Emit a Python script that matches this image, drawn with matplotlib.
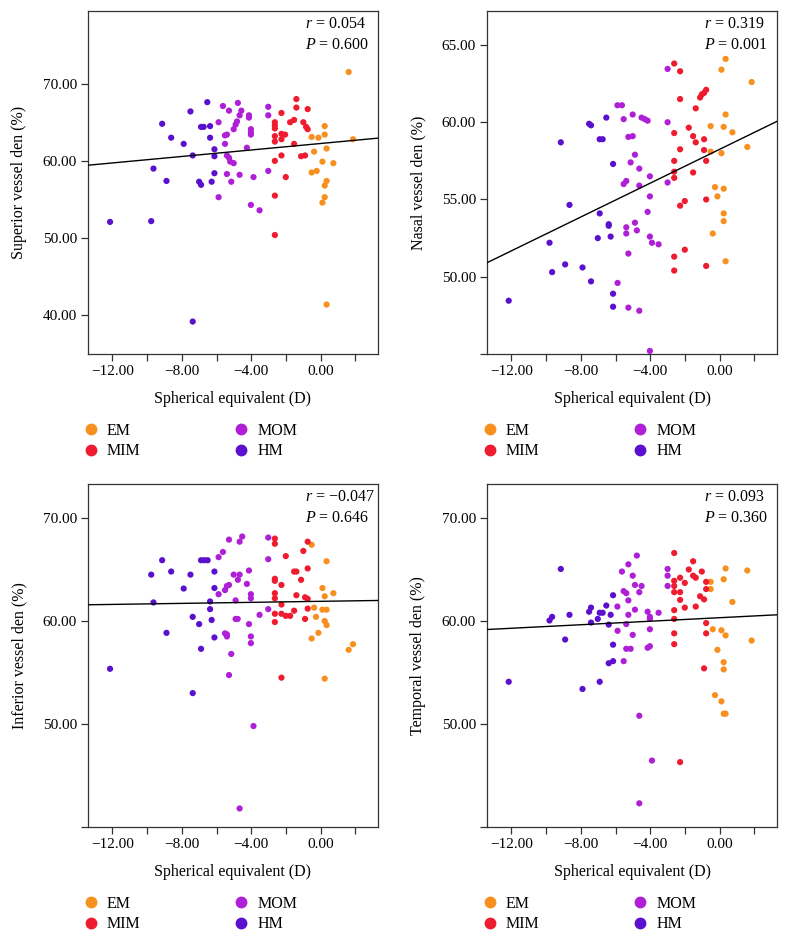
import numpy as np
import matplotlib
matplotlib.use("Agg")
import matplotlib.pyplot as plt
from matplotlib.lines import Line2D
from matplotlib.ticker import FuncFormatter

plt.rcParams["font.family"] = ["Liberation Serif", "DejaVu Serif"]
plt.rcParams["mathtext.fontset"] = "custom"
plt.rcParams["mathtext.rm"] = "Liberation Serif"
plt.rcParams["mathtext.it"] = "Liberation Serif:italic"

groups = ["EM", "MIM", "MOM", "HM"]
colors = {"EM": "#F7901E", "MIM": "#EE1C2E", "MOM": "#AE1FD6", "HM": "#5B10CE"}

# ---- superior ----
sup_em_x = [-0.52, -0.52, -0.38, -0.23, -0.13, 0.10, 0.10, 0.23, 0.23, 0.23, 0.23, 0.34, 0.34, 0.34, 0.73, 1.61, 1.86]
sup_em_y = [63.1, 58.5, 61.2, 58.7, 63.0, 59.9, 54.6, 64.5, 63.4, 56.8, 55.3, 61.6, 57.4, 41.4, 59.7, 71.5, 62.8]
sup_mim_x = [-2.64, -2.64, -2.64, -2.64, -2.64, -2.64, -2.64, -2.64, -2.26, -2.26, -2.26, -2.26, -2.05, -2.01,
             -1.76, -1.53, -1.53, -1.40, -1.40, -1.13, -1.00, -0.90, -0.84, -0.75, -0.75]
sup_mim_y = [50.4, 55.5, 60.0, 62.5, 63.2, 64.2, 64.6, 65.0, 66.2, 62.8, 63.5, 60.7, 63.4, 57.9,
             65.0, 65.3, 62.2, 68.0, 66.9, 60.6, 65.0, 60.7, 64.4, 66.7, 64.1]
sup_mom_x = [-5.88, -5.88, -5.63, -5.51, -5.51, -5.40, -5.40, -5.28, -5.28, -5.21, -5.40, -5.15, -5.01, -5.01,
             -4.90, -4.82, -4.77, -4.67, -4.57, -4.67, -4.25, -4.13, -4.13, -4.02, -4.02, -4.02, -4.02, -3.87,
             -3.52, -3.02, -3.02, -3.02]
sup_mom_y = [65.0, 55.3, 67.1, 63.3, 62.2, 63.4, 60.7, 60.4, 66.5, 59.9, 58.3, 57.3, 64.1, 59.7,
             64.7, 65.1, 67.5, 65.9, 66.5, 58.2, 61.7, 65.9, 65.6, 64.1, 63.7, 63.4, 54.3, 57.9,
             53.6, 67.0, 65.9, 58.7]
sup_hm_x = [-12.13, -9.76, -9.13, -9.63, -8.88, -8.61, -7.89, -7.50, -7.37, -7.37, -7.00, -6.89, -6.89, -6.74,
            -6.53, -6.37, -6.37, -6.28, -6.12, -6.12, -6.12]
sup_hm_y = [52.1, 52.2, 64.8, 59.0, 57.4, 63.0, 62.2, 66.4, 60.7, 39.2, 57.3, 56.9, 64.4, 64.4,
            67.6, 64.5, 63.0, 57.3, 61.5, 60.6, 58.4]

# ---- nasal ----
nas_em_x = [-0.52, -0.52, -0.40, -0.27, -0.13, 0.10, 0.10, 0.23, 0.23, 0.23, 0.23, 0.34, 0.34, 0.34, 0.73, 1.59, 1.84]
nas_em_y = [59.75, 58.1, 52.8, 55.8, 55.2, 63.4, 58.0, 59.7, 55.7, 54.1, 53.6, 64.1, 60.5, 51.0, 59.35, 58.4, 62.6]
nas_mim_x = [-2.62, -2.62, -2.62, -2.62, -2.62, -2.62, -2.62, -2.28, -2.28, -2.28, -2.28, -2.01, -2.01,
             -1.78, -1.53, -1.53, -1.38, -1.38, -1.13, -1.03, -0.90, -0.78, -0.90, -0.90, -0.78, -0.78, -0.78]
nas_mim_y = [63.8, 59.3, 57.5, 56.8, 56.4, 51.3, 50.4, 63.3, 61.5, 58.25, 54.6, 54.9, 51.75,
             59.65, 59.1, 56.75, 60.9, 58.7, 61.6, 61.8, 61.9, 62.1, 58.9, 58.2, 57.5, 55.0, 50.7]
nas_mom_x = [-5.89, -5.63, -5.88, -5.53, -5.53, -5.38, -5.38, -5.38, -5.26, -5.26, -5.26, -5.01, -5.01, -4.88,
             -4.88, -4.77, -5.13, -4.63, -4.63, -4.63, -4.50, -4.31, -4.15, -4.15, -4.02, -4.02, -4.02, -3.90,
             -4.02, -3.52, -3.00, -3.00, -3.00]
nas_mom_y = [61.1, 61.1, 49.6, 60.2, 56.0, 56.2, 53.2, 52.8, 59.05, 51.5, 48.0, 60.5, 59.1, 57.9,
             53.5, 53.0, 57.4, 57.0, 55.9, 47.8, 60.3, 60.2, 60.1, 54.2, 56.5, 55.2, 52.6, 52.2,
             45.2, 52.1, 63.45, 60.0, 56.1]
nas_hm_x = [-12.15, -9.80, -9.65, -9.15, -8.90, -8.65, -7.90, -7.52, -7.41, -7.41, -7.02, -6.91, -6.74, -6.91,
            -6.53, -6.39, -6.39, -6.28, -6.14, -6.14, -6.14]
nas_hm_y = [48.45, 52.2, 50.3, 58.7, 50.8, 54.65, 50.6, 59.9, 59.8, 49.7, 52.5, 58.9, 58.9, 54.1,
            60.3, 53.4, 53.3, 52.6, 57.3, 48.9, 48.06]

# ---- inferior ----
inf_em_x = [-0.52, -0.52, -0.38, -0.27, -0.13, 0.10, 0.10, 0.23, 0.23, 0.23, 0.34, 0.34, 0.34, 0.73, 1.61, 1.86]
inf_em_y = [67.4, 58.3, 61.3, 60.4, 58.85, 63.2, 61.1, 62.4, 60.0, 54.4, 65.8, 61.1, 59.6, 62.7, 57.2, 57.75]
inf_mim_x = [-2.64, -2.64, -2.64, -2.64, -2.64, -2.64, -2.64, -2.64, -2.26, -2.26, -2.26, -2.26, -2.01, -2.01,
             -1.76, -1.53, -1.53, -1.40, -1.40, -1.13, -1.00, -0.90, -0.90, -0.75, -0.75, -0.75, -0.75]
inf_mim_y = [68.0, 67.5, 64.1, 63.9, 62.7, 62.2, 60.7, 59.9, 63.5, 61.6, 60.7, 54.5, 66.3, 60.5,
             60.5, 61.0, 64.8, 64.8, 62.5, 64.0, 66.8, 62.3, 60.2, 67.7, 65.1, 62.15, 61.2]
inf_mom_x = [-5.88, -5.88, -5.63, -5.51, -5.51, -5.40, -5.40, -5.40, -5.28, -5.28, -5.28, -5.15, -5.01, -4.90,
             -4.90, -4.78, -4.77, -4.67, -4.67, -4.52, -4.67, -4.25, -4.13, -4.13, -4.02, -4.02, -4.02, -4.02,
             -3.87, -3.52, -3.02, -3.02, -3.02]
inf_mom_y = [62.6, 66.2, 66.7, 63.0, 58.8, 58.7, 58.5, 63.4, 63.5, 67.9, 54.75, 56.8, 64.5, 62.0,
             60.2, 60.2, 64.0, 64.5, 67.7, 68.2, 41.8, 63.6, 64.9, 59.7, 62.6, 62.2, 58.5, 57.85,
             49.8, 60.6, 68.1, 66.0, 61.15]
inf_hm_x = [-12.13, -9.76, -9.63, -9.13, -8.88, -8.61, -7.89, -7.50, -7.37, -7.37, -7.00, -6.89, -6.89, -6.70,
            -6.51, -6.37, -6.37, -6.28, -6.12, -6.12, -6.12]
inf_hm_y = [55.36, 64.5, 61.8, 65.9, 58.85, 64.8, 63.15, 64.5, 60.4, 53.0, 59.7, 57.3, 65.9, 65.9,
            65.9, 61.9, 61.15, 60.1, 64.8, 63.2, 58.4]

# ---- temporal ----
tem_em_x = [-0.52, -0.52, -0.40, -0.27, -0.13, 0.10, 0.10, 0.23, 0.23, 0.23, 0.23, 0.34, 0.34, 0.34, 0.73, 1.59, 1.84]
tem_em_y = [63.8, 63.1, 59.2, 52.8, 57.2, 59.1, 52.2, 64.05, 56.0, 55.3, 51.0, 65.1, 58.6, 51.0, 61.85, 64.9, 58.1]
tem_mim_x = [-2.62, -2.62, -2.62, -2.62, -2.62, -2.62, -2.62, -2.62, -2.28, -2.28, -2.28, -2.28, -2.01, -2.01,
             -1.78, -1.53, -1.53, -1.38, -1.38, -1.13, -1.03, -0.90, -0.90, -0.78, -0.78, -0.78, -0.78]
tem_mim_y = [66.6, 63.9, 63.4, 62.8, 61.05, 60.2, 58.8, 57.75, 64.2, 62.8, 62.05, 46.3, 63.7, 61.3,
             65.0, 65.8, 64.4, 64.2, 61.4, 62.4, 64.8, 62.1, 55.4, 63.8, 63.1, 59.8, 58.8]
tem_mom_x = [-5.89, -5.88, -5.63, -5.53, -5.53, -5.38, -5.38, -5.38, -5.26, -5.26, -5.26, -5.13, -5.01, -5.01,
             -4.88, -4.88, -4.77, -4.63, -4.63, -4.63, -4.50, -4.15, -4.15, -4.02, -4.02, -4.02, -4.02, -3.90,
             -3.52, -3.00, -3.00, -3.00]
tem_mom_y = [61.4, 59.05, 64.8, 62.9, 56.1, 62.7, 59.7, 57.3, 65.5, 62.0, 60.6, 57.3, 64.4, 58.65,
             63.5, 61.1, 66.35, 62.8, 50.8, 42.3, 63.4, 60.9, 57.4, 60.2, 59.2, 57.55, 60.4, 46.45,
             60.8, 65.05, 64.4, 63.4]
tem_hm_x = [-12.15, -9.80, -9.65, -9.15, -8.90, -8.65, -7.90, -7.52, -7.41, -7.41, -7.02, -6.91, -6.74, -6.91,
            -6.53, -6.39, -6.39, -6.28, -6.14, -6.14, -6.14]
tem_hm_y = [54.1, 60.05, 60.4, 65.05, 58.2, 60.6, 53.4, 60.9, 61.3, 59.85, 60.2, 60.8, 60.8, 54.1,
            61.5, 59.65, 55.9, 60.6, 62.5, 57.7, 56.1]

panels = [
    dict(ylabel="Superior vessel den (%)", r="0.054", p="0.600", fit=(62.25, 0.21),
         ylim=(35.0, 79.4), yticks=[40, 50, 60, 70], ylabeled=[40, 50, 60, 70],
         data={"EM": (sup_em_x, sup_em_y), "MIM": (sup_mim_x, sup_mim_y),
               "MOM": (sup_mom_x, sup_mom_y), "HM": (sup_hm_x, sup_hm_y)}),
    dict(ylabel="Nasal vessel den (%)", r="0.319", p="0.001", fit=(58.25, 0.548),
         ylim=(45.0, 67.2), yticks=[45, 50, 55, 60, 65], ylabeled=[50, 55, 60, 65],
         data={"EM": (nas_em_x, nas_em_y), "MIM": (nas_mim_x, nas_mim_y),
               "MOM": (nas_mom_x, nas_mom_y), "HM": (nas_hm_x, nas_hm_y)}),
    dict(ylabel="Inferior vessel den (%)", r="\u22120.047", p="0.646", fit=(61.91, 0.025),
         ylim=(40.0, 73.3), yticks=[40, 50, 60, 70], ylabeled=[50, 60, 70],
         data={"EM": (inf_em_x, inf_em_y), "MIM": (inf_mim_x, inf_mim_y),
               "MOM": (inf_mom_x, inf_mom_y), "HM": (inf_hm_x, inf_hm_y)}),
    dict(ylabel="Temporal vessel den (%)", r="0.093", p="0.360", fit=(60.32, 0.0855),
         ylim=(40.0, 73.3), yticks=[40, 50, 60, 70], ylabeled=[50, 60, 70],
         data={"EM": (tem_em_x, tem_em_y), "MIM": (tem_mim_x, tem_mim_y),
               "MOM": (tem_mom_x, tem_mom_y), "HM": (tem_hm_x, tem_hm_y)}),
]

W, H = 788, 939
fig = plt.figure(figsize=(W / 100, H / 100), dpi=100)
boxes = [(88, 11), (487, 11), (88, 484), (487, 484)]
aw, ah = 290, 343

def fmt2(v):
    return ("%.2f" % v).replace("-", "\u2212")

for (px, py), cfg in zip(boxes, panels):
    ax = fig.add_axes([px / W, 1 - (py + ah) / H, aw / W, ah / H])
    for g in groups:
        xs, ys = cfg["data"][g]
        ax.scatter(xs, ys, s=20, color=colors[g], edgecolors="none", zorder=3)
    ax.set_xlim(-13.4, 3.3)
    ax.set_ylim(*cfg["ylim"])
    b0, b1 = cfg["fit"]
    xl = np.array(ax.get_xlim())
    ax.plot(xl, b0 + b1 * xl, color="black", lw=1.0, zorder=4)

    ax.set_xticks(np.arange(-12, 3, 2))
    ax.xaxis.set_major_formatter(FuncFormatter(lambda v, pos: fmt2(v) if int(round(v)) % 4 == 0 else ""))
    labeled = cfg["ylabeled"]
    ax.set_yticks(cfg["yticks"])
    ax.yaxis.set_major_formatter(FuncFormatter(lambda v, pos, lab=labeled: fmt2(v) if round(v) in lab else ""))
    ax.tick_params(length=5, width=0.9, color="#333333", labelsize=11, pad=3)
    for sp in ax.spines.values():
        sp.set_color("#333333")
        sp.set_linewidth(0.9)

    ax.set_xlabel("Spherical equivalent (D)", fontsize=11.5, labelpad=9)
    ax.set_ylabel(cfg["ylabel"], fontsize=11.5, labelpad=11)

    ax.text(0.748, 0.962, r"$r$ = " + cfg["r"], transform=ax.transAxes, fontsize=11.5, va="center", ha="left")
    ax.text(0.748, 0.902, r"$P$ = " + cfg["p"], transform=ax.transAxes, fontsize=11.5, va="center", ha="left")

    handles = [Line2D([], [], marker="o", ls="none", color=colors[g], markersize=7.5) for g in groups]
    ax.legend(handles, groups, ncol=2, loc="upper left", bbox_to_anchor=(-0.012, -0.2),
              frameon=False, fontsize=11.5, handlelength=0.8, handletextpad=0.6,
              columnspacing=5.9, labelspacing=0.3, borderpad=0, borderaxespad=0)

fig.savefig("out.png", dpi=100)
